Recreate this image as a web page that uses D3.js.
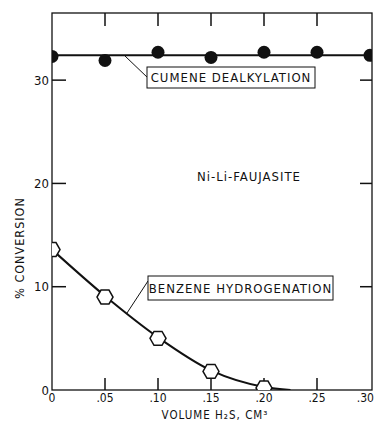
<!DOCTYPE html>
<html>
<head>
<meta charset="utf-8">
<script src="https://cdn.jsdelivr.net/npm/d3@7"></script>
<style>
body { margin: 0; background: #fff; }
text { font-family: "DejaVu Sans Condensed", "DejaVu Sans", sans-serif; fill: #111; }
</style>
</head>
<body>
<div id="chart"></div>
<script>
var volume = [0, 0.05, 0.10, 0.15, 0.20, 0.25, 0.30];
var cumene = [32.3, 31.9, 32.7, 32.2, 32.7, 32.7, 32.4];
var cumeneFit = 32.4;
var benzeneVol = [0, 0.05, 0.10, 0.15, 0.20];
var benzene = [13.6, 9.0, 5.0, 1.8, 0.2];
var benzeneCurveVol = [0, 0.05, 0.10, 0.15, 0.20, 0.225];
var benzeneCurve = [13.6, 9.1, 5.1, 1.9, 0.3, 0];
var xTicks = [0, 0.05, 0.10, 0.15, 0.20, 0.25, 0.30];
var xTickLabels = ["0", ".05", ".10", ".15", ".20", ".25", ".30"];
var yTicks = [0, 10, 20, 30];

var width = 375, height = 421;
var margin = {left: 52, right: 3, top: 13, bottom: 31};
var w = width - margin.left - margin.right,
    h = height - margin.top - margin.bottom;

var svg = d3.select("#chart").append("svg")
    .attr("width", width).attr("height", height);
var g = svg.append("g").attr("transform", "translate(" + margin.left + "," + margin.top + ")");

var x = d3.scaleLinear().domain([0, 0.30]).range([0, w - 2]);
var y = d3.scaleLinear().domain([0, 36.5]).range([h, 0]);

g.append("clipPath").attr("id", "clip")
  .append("rect").attr("width", w).attr("height", h);

// frame
g.append("rect").attr("width", w).attr("height", h)
  .attr("fill", "none").attr("stroke", "#111").attr("stroke-width", 1.3);

// inward ticks
var inner = xTicks.slice(1, -1);
g.selectAll(".tt").data(inner).enter().append("line")
  .attr("x1", x).attr("x2", x).attr("y1", 0).attr("y2", 13)
  .attr("stroke", "#111").attr("stroke-width", 1.5);
g.selectAll(".bt").data(inner).enter().append("line")
  .attr("x1", x).attr("x2", x).attr("y1", h).attr("y2", h - 12)
  .attr("stroke", "#111").attr("stroke-width", 1.5);
g.selectAll(".lt").data(yTicks.slice(1)).enter().append("line")
  .attr("x1", 0).attr("x2", 14).attr("y1", y).attr("y2", y)
  .attr("stroke", "#111").attr("stroke-width", 1.5);
g.selectAll(".rt").data(yTicks.slice(1)).enter().append("line")
  .attr("x1", w).attr("x2", w - 12).attr("y1", y).attr("y2", y)
  .attr("stroke", "#111").attr("stroke-width", 1.5);

// tick labels
g.selectAll(".xl").data(xTicks).enter().append("text")
  .attr("x", function(d, i){ return i == xTicks.length - 1 ? w + 2 : x(d); })
  .attr("y", h + 12)
  .attr("text-anchor", function(d, i){ return i == xTicks.length - 1 ? "end" : "middle"; })
  .style("font-size", "12px")
  .text(function(d, i){ return xTickLabels[i]; });
g.selectAll(".yl").data(yTicks).enter().append("text")
  .attr("x", -3).attr("y", function(d){ return y(d); })
  .attr("dy", ".35em")
  .attr("text-anchor", "end")
  .style("font-size", "13px")
  .text(function(d){ return d; });

// axis titles
svg.append("text")
  .attr("x", margin.left + x(0.15) + 4).attr("y", 419)
  .attr("text-anchor", "middle")
  .style("font-size", "11.5px").style("letter-spacing", "1px")
  .text("VOLUME H\u2082S, CM\u00B3");
svg.append("text")
  .attr("transform", "translate(24,248) rotate(-90)")
  .attr("text-anchor", "middle")
  .style("font-size", "12.5px").style("letter-spacing", "1px")
  .text("% CONVERSION");

var plot = g.append("g").attr("clip-path", "url(#clip)");

// cumene
plot.append("line")
  .attr("x1", x(0)).attr("x2", x(0.30))
  .attr("y1", y(cumeneFit)).attr("y2", y(cumeneFit))
  .attr("stroke", "#111").attr("stroke-width", 2);
plot.selectAll(".cd").data(volume).enter().append("circle")
  .attr("cx", function(d){ return x(d); })
  .attr("cy", function(d, i){ return y(cumene[i]); })
  .attr("r", 6.5).attr("fill", "#111");

// benzene
var line = d3.line()
  .x(function(d){ return x(d[0]); })
  .y(function(d){ return y(d[1]); })
  .curve(d3.curveMonotoneX);
plot.append("path")
  .datum(d3.zip(benzeneCurveVol, benzeneCurve))
  .attr("d", line)
  .attr("fill", "none").attr("stroke", "#111").attr("stroke-width", 2);
var hex = d3.range(6).map(function(k){
  var a = Math.PI / 3 * k;
  return [8 * Math.cos(a), 8 * Math.sin(a)];
});
plot.selectAll(".bh").data(benzeneVol).enter().append("path")
  .attr("transform", function(d, i){ return "translate(" + x(d) + "," + y(benzene[i]) + ")"; })
  .attr("d", "M" + hex.join("L") + "Z")
  .attr("fill", "#fff").attr("stroke", "#111").attr("stroke-width", 1.5);

// labels
function boxLabel(text, bx, by, bw, bh, lx1, ly1, lx2, ly2) {
  g.append("line")
    .attr("x1", lx1).attr("y1", ly1).attr("x2", lx2).attr("y2", ly2)
    .attr("stroke", "#111").attr("stroke-width", 1);
  g.append("rect").attr("x", bx).attr("y", by).attr("width", bw).attr("height", bh)
    .attr("fill", "#fff").attr("stroke", "#111").attr("stroke-width", 1);
  g.append("text").attr("x", bx + bw / 2).attr("y", by + bh / 2).attr("dy", ".36em")
    .attr("text-anchor", "middle")
    .style("font-size", "13px").style("letter-spacing", "1px")
    .text(text);
}
boxLabel("CUMENE DEALKYLATION", 95, 54, 168, 21, 73, 43, 96, 65);
boxLabel("BENZENE HYDROGENATION", 96, 263, 185, 24, 75, 300, 96, 268);

g.append("text")
  .attr("x", 145).attr("y", 168)
  .style("font-size", "13px").style("letter-spacing", "1px")
  .text("Ni-Li-FAUJASITE");
</script>
</body>
</html>
